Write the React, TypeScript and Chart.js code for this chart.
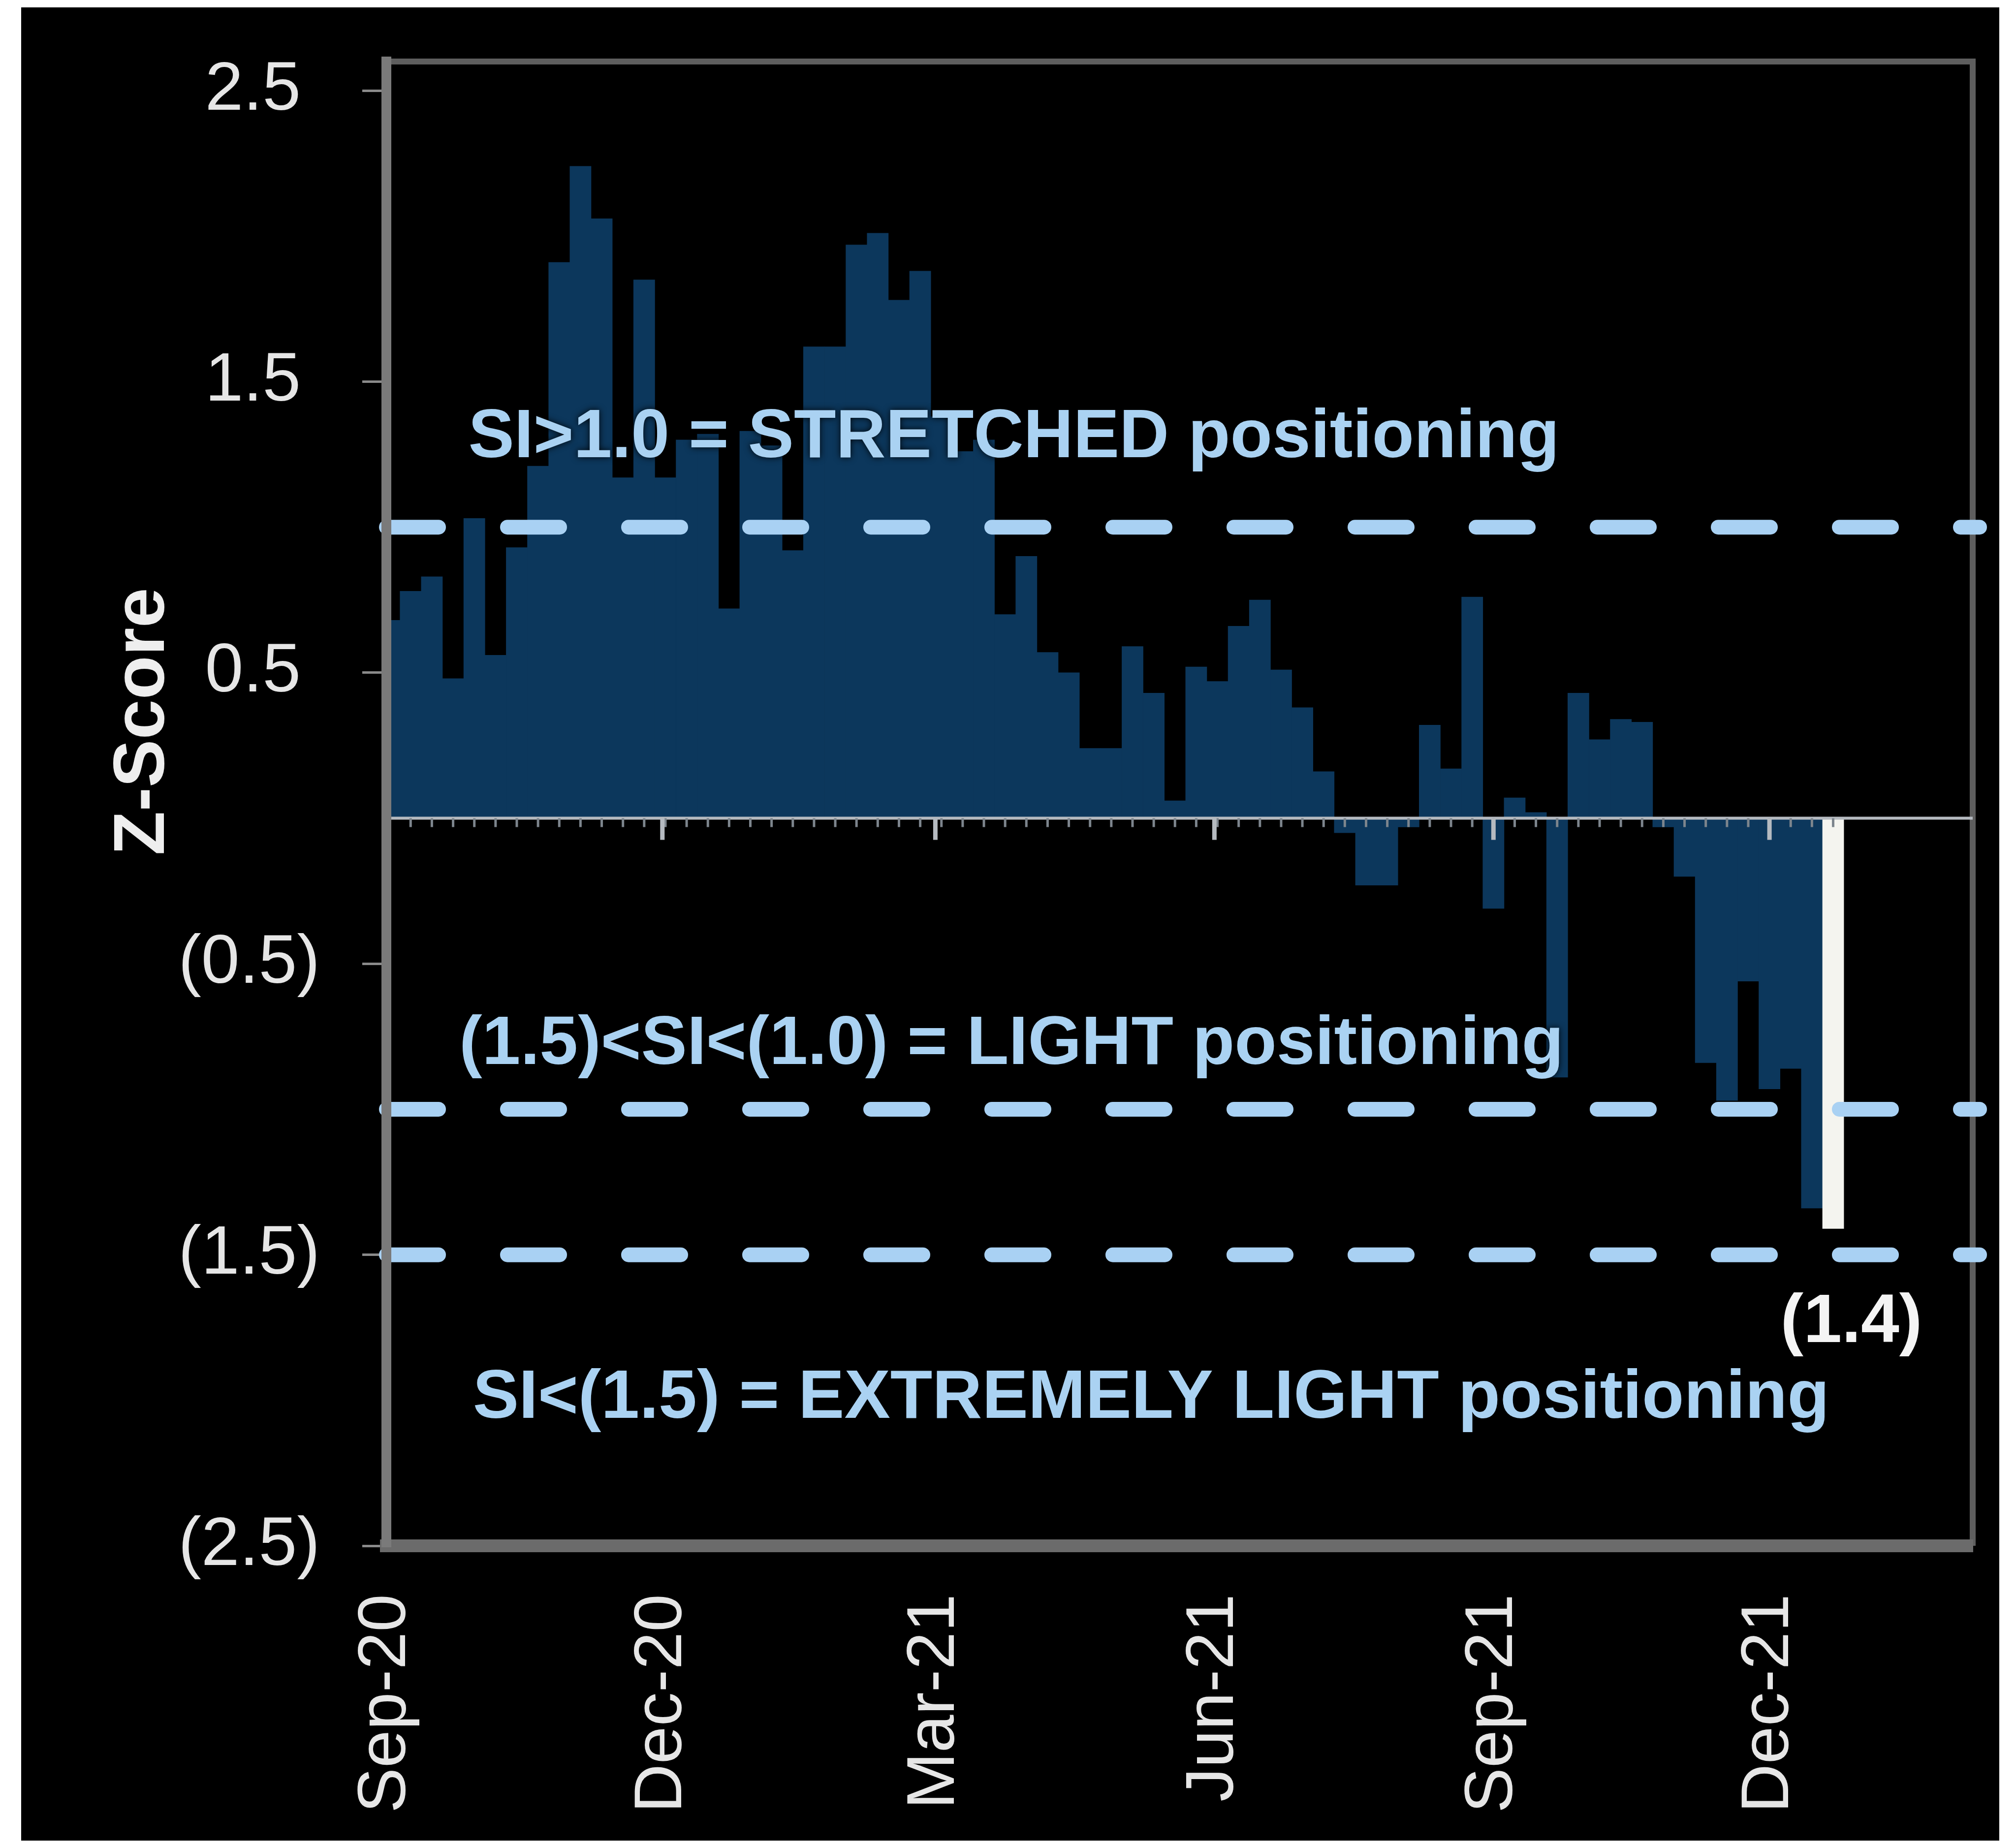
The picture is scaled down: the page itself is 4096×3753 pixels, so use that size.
import React, { useEffect, useRef } from "react";
import { Chart, registerables } from "chart.js";

Chart.register(...registerables);

// ---------------- data ----------------
const axisStartDate = "2020-09-01";
const axisEndDate = "2022-02-06";

const weekDates = [
  "2020-09-02", "2020-09-09", "2020-09-16", "2020-09-23", "2020-09-30",
  "2020-10-07", "2020-10-14", "2020-10-21", "2020-10-28", "2020-11-04",
  "2020-11-11", "2020-11-18", "2020-11-25", "2020-12-02", "2020-12-09",
  "2020-12-16", "2020-12-23", "2020-12-30", "2021-01-06", "2021-01-13",
  "2021-01-20", "2021-01-27", "2021-02-03", "2021-02-10", "2021-02-17",
  "2021-02-24", "2021-03-03", "2021-03-10", "2021-03-17", "2021-03-24",
  "2021-03-31", "2021-04-07", "2021-04-14", "2021-04-21", "2021-04-28",
  "2021-05-05", "2021-05-12", "2021-05-19", "2021-05-26", "2021-06-02",
  "2021-06-09", "2021-06-16", "2021-06-23", "2021-06-30", "2021-07-07",
  "2021-07-14", "2021-07-21", "2021-07-28", "2021-08-04", "2021-08-11",
  "2021-08-18", "2021-08-25", "2021-09-01", "2021-09-08", "2021-09-15",
  "2021-09-22", "2021-09-29", "2021-10-06", "2021-10-13", "2021-10-20",
  "2021-10-27", "2021-11-03", "2021-11-10", "2021-11-17", "2021-11-24",
  "2021-12-01", "2021-12-08", "2021-12-15", "2021-12-22",
];

const zScores = [
  0.68, 0.78, 0.83, 0.48, 1.03, 0.56, 0.93, 1.21, 1.91, 2.24,
  2.06, 1.17, 1.85, 1.17, 1.30, 1.32, 0.72, 1.33, 1.28, 0.92,
  1.62, 1.62, 1.97, 2.01, 1.78, 1.88, 1.38, 1.26, 1.30, 0.70,
  0.90, 0.57, 0.50, 0.24, 0.24, 0.59, 0.43, 0.06, 0.52, 0.47,
  0.66, 0.75, 0.51, 0.38, 0.16, -0.05, -0.23, -0.23, -0.03, 0.32,
  0.17, 0.76, -0.31, 0.07, 0.02, -0.89, 0.43, 0.27, 0.34, 0.33,
  -0.03, -0.20, -0.84, -0.97, -0.56, -0.93, -0.86, -1.34, -1.41,
];

const quarterTickDates = ["2020-09-01", "2020-12-01", "2021-03-01", "2021-06-01", "2021-09-01", "2021-12-01"];
const quarterTickLabels = ["Sep-20", "Dec-20", "Mar-21", "Jun-21", "Sep-21", "Dec-21"];

const yTickValues = [-2.5, -1.5, -0.5, 0.5, 1.5, 2.5];
const yMin = -2.5;
const yMax = 2.6;

const thresholdLevels = [1.0, -1.0, -1.5];

const zoneLabels = [
  "SI>1.0 = STRETCHED positioning",
  "(1.5)<SI<(1.0) = LIGHT positioning",
  "SI<(1.5) = EXTREMELY LIGHT positioning",
];
const latestLabel = "(1.4)";
const yAxisTitle = "Z-Score";

// ---------------- layout / style ----------------
const W = 4096;
const H = 3753;
const FONT = '"Liberation Sans", Arial, Helvetica, sans-serif';
const ANN = {
  zoneDays: [27, 24, 28.5],
  zoneBaselines: [1.24, -0.845, -2.06],
  latestDay: 483,
  latestBaseline: -1.8,
};

const fmtY = (v: number) => (v < 0 ? `(${Math.abs(v).toFixed(1)})` : `${v.toFixed(1)} `);

export default function App() {
  const ref = useRef<HTMLCanvasElement | null>(null);

  useEffect(() => {
    const canvas = ref.current;
    if (!canvas) return;
    const t0 = Date.parse(axisStartDate);
    const dayOf = (s: string) => (Date.parse(s) - t0) / 86400000;
    const points = weekDates.map((d, i) => ({ x: dayOf(d), y: zScores[i] }));
    const barColors = zScores.map((_, i) => (i === zScores.length - 1 ? "#f4f4ef" : "#0c375c"));
    const tickDays = quarterTickDates.map(dayOf);

    const backgroundPlugin = {
      id: "panelBackground",
      beforeDraw(chart: any) {
        const { ctx } = chart;
        ctx.save();
        ctx.fillStyle = "#ffffff";
        ctx.fillRect(0, 0, W, H);
        ctx.fillStyle = "#000000";
        ctx.fillRect(43, 15, 4062 - 43, 3740 - 15);
        ctx.restore();
      },
    };

    const overlayPlugin = {
      id: "overlay",
      afterDatasetsDraw(chart: any) {
        const { ctx, chartArea: a, scales } = chart;
        const xs = scales.x;
        const ys = scales.y;
        ctx.save();
        // frame (top + right)
        ctx.strokeStyle = "#5e5e5e";
        ctx.lineWidth = 12;
        ctx.beginPath();
        ctx.moveTo(a.left, a.top);
        ctx.lineTo(a.right, a.top);
        ctx.lineTo(a.right, a.bottom);
        ctx.stroke();
        // zero line
        const y0 = ys.getPixelForValue(0);
        ctx.strokeStyle = "#b5bac0";
        ctx.lineWidth = 6;
        ctx.beginPath();
        ctx.moveTo(a.left, y0);
        ctx.lineTo(a.right, y0);
        ctx.stroke();
        // minor ticks
        ctx.lineWidth = 5;
        ctx.strokeStyle = "#7d858d";
        for (const p of points) {
          const px = xs.getPixelForValue(p.x);
          if (px < a.left || px > a.right) continue;
          ctx.beginPath();
          ctx.moveTo(px, y0);
          ctx.lineTo(px, y0 + 18);
          ctx.stroke();
        }
        // major ticks
        ctx.lineWidth = 9;
        ctx.strokeStyle = "#b5bac0";
        for (const d of tickDays) {
          const px = xs.getPixelForValue(d);
          ctx.beginPath();
          ctx.moveTo(px, y0);
          ctx.lineTo(px, y0 + 44);
          ctx.stroke();
        }
        // threshold dashed lines
        ctx.strokeStyle = "#a9d1f3";
        ctx.lineWidth = 30;
        ctx.lineCap = "round";
        ctx.setLineDash([106, 140]);
        ctx.lineDashOffset = 0;
        for (const lv of thresholdLevels) {
          const py = ys.getPixelForValue(lv);
          ctx.beginPath();
          ctx.moveTo(a.left, py);
          ctx.lineTo(a.right + 14, py);
          ctx.stroke();
        }
        ctx.restore();
      },
      afterDraw(chart: any) {
        const { ctx, scales } = chart;
        const xs = scales.x;
        const ys = scales.y;
        // y-axis title
        ctx.save();
        ctx.font = `bold 146px ${FONT}`;
        ctx.fillStyle = "#eeeeee";
        ctx.textAlign = "center";
        ctx.textBaseline = "middle";
        ctx.translate(293, 1466);
        ctx.rotate(-Math.PI / 2);
        ctx.fillText(yAxisTitle, 0, 0);
        ctx.restore();
        // zone annotations
        ctx.save();
        ctx.font = `bold 140px ${FONT}`;
        ctx.textBaseline = "alphabetic";
        ctx.textAlign = "left";
        ctx.shadowColor = "rgba(0,0,0,0.9)";
        ctx.shadowBlur = 14;
        ctx.fillStyle = "#aad2f2";
        zoneLabels.forEach((t, i) => {
          ctx.fillText(t, xs.getPixelForValue(ANN.zoneDays[i]), ys.getPixelForValue(ANN.zoneBaselines[i]));
        });
        ctx.fillStyle = "#f4f4f4";
        ctx.textAlign = "center";
        ctx.fillText(latestLabel, xs.getPixelForValue(ANN.latestDay), ys.getPixelForValue(ANN.latestBaseline));
        ctx.restore();
      },
    };

    const chart = new Chart(canvas, {
      type: "bar",
      data: {
        datasets: [
          {
            data: points as any,
            backgroundColor: barColors,
            borderWidth: 0,
            barPercentage: 1,
            categoryPercentage: 1,
            clip: 0 as any,
          },
        ],
      },
      options: {
        responsive: false,
        animation: false,
        devicePixelRatio: 1,
        layout: { padding: { left: 0, top: 125, right: 88, bottom: 0 } },
        plugins: { legend: { display: false }, tooltip: { enabled: false } },
        scales: {
          x: {
            type: "linear",
            min: 0,
            max: dayOf(axisEndDate),
            offset: false,
            afterBuildTicks: (s: any) => {
              s.ticks = tickDays.map((v) => ({ value: v }));
            },
            afterFit: (s: any) => {
              s.height = 612;
              s.paddingLeft = 0;
              s.paddingRight = 0;
              s.paddingTop = 0;
              s.paddingBottom = 0;
            },
            grid: { display: false, drawTicks: false },
            border: { display: true, color: "#6b6b6b", width: 26, z: 1 },
            ticks: {
              autoSkip: false,
              maxRotation: 90,
              minRotation: 90,
              padding: 98,
              color: "#e6e6e6",
              font: { family: FONT, size: 138 },
              callback: (_v: any, i: number) => quarterTickLabels[i],
            },
          },
          y: {
            min: yMin,
            max: yMax,
            afterBuildTicks: (s: any) => {
              s.ticks = yTickValues.map((v) => ({ value: v }));
            },
            afterFit: (s: any) => {
              s.width = 785;
              s.paddingLeft = 0;
              s.paddingRight = 0;
              s.paddingTop = 0;
              s.paddingBottom = 0;
            },
            grid: { display: true, drawOnChartArea: false, drawTicks: true, tickLength: 49, color: "#8a8a8a", lineWidth: 5 },
            border: { display: true, color: "#7a7a7a", width: 20, z: 1 },
            ticks: {
              padding: 86,
              color: "#e6e6e6",
              font: { family: FONT, size: 140 },
              callback: (v: any) => fmtY(Number(v)),
            },
          },
        },
      } as any,
      plugins: [backgroundPlugin, overlayPlugin],
    });
    return () => chart.destroy();
  }, []);

  return (
    <div style={{ position: "fixed", left: 0, top: 0, width: W, height: H, background: "#ffffff" }}>
      <canvas ref={ref} width={W} height={H} style={{ width: W, height: H, display: "block" }} />
    </div>
  );
}
